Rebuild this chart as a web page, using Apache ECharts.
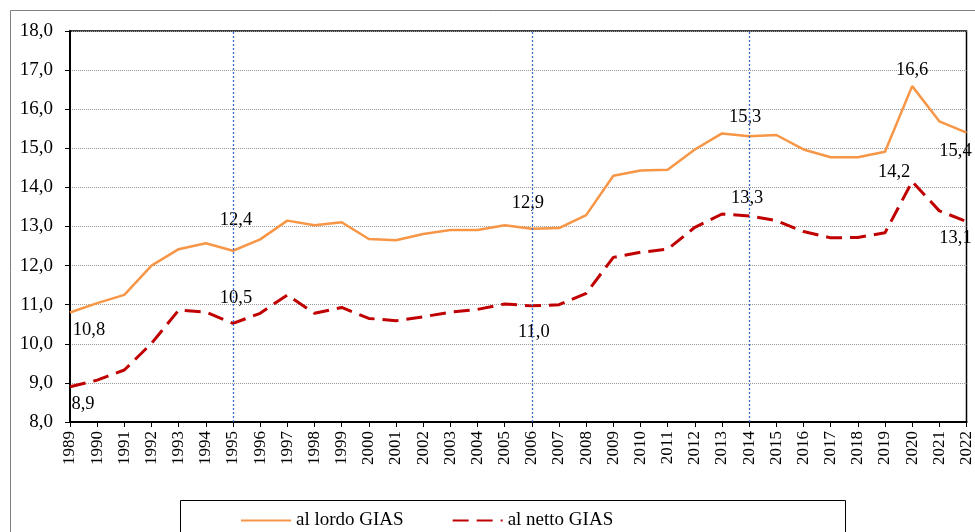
<!DOCTYPE html>
<html>
<head>
<meta charset="utf-8">
<script src="https://cdn.jsdelivr.net/npm/echarts@6/dist/echarts.min.js"></script>
<style>
  html, body { margin: 0; padding: 0; background: #fff; }
  #chart { width: 975px; height: 532px; }
</style>
</head>
<body>
<div id="chart"></div>
<script>
// anni 1989-2022
const years = [];
for (let y = 1989; y <= 2022; y++) years.push(String(y));

const lordoGias = [10.8, 11.04, 11.25, 12.0, 12.42, 12.57, 12.38, 12.67, 13.15, 13.03, 13.11,
  12.68, 12.65, 12.81, 12.91, 12.91, 13.03, 12.94, 12.96, 13.29, 14.3, 14.43, 14.45, 14.97,
  15.38, 15.31, 15.34, 14.97, 14.77, 14.77, 14.91, 16.59, 15.69, 15.4];
const nettoGias = [8.9, 9.07, 9.33, 10.01, 10.86, 10.81, 10.52, 10.78, 11.25, 10.78, 10.93,
  10.65, 10.59, 10.69, 10.81, 10.88, 11.02, 10.97, 11.0, 11.29, 12.21, 12.34, 12.42, 12.98,
  13.32, 13.27, 13.15, 12.87, 12.71, 12.72, 12.84, 14.15, 13.4, 13.13];

const seriesNames = ['al lordo GIAS', 'al netto GIAS'];
const markedYears = ['1995', '2006', '2014'];

// etichette: anno -> offset [dx, dy] rispetto al punto
const lordoLabels = { '1989': [19, 18], '1995': [3, -31], '2006': [-4, -26], '2014': [-4, -19], '2020': [0, -16], '2022': [-11, 18] };
const nettoLabels = { '1989': [13, 17], '1995': [3, -25], '2006': [2, 26], '2014': [-2, -18], '2020': [-18, -9], '2022': [-11, 17] };

const font = 'Liberation Serif, Times New Roman, serif';
const fmt = (v) => v.toFixed(1).replace('.', ',');

function buildData(values, labels) {
  return values.map((v, i) => {
    const off = labels[years[i]];
    if (!off) return v;
    return {
      value: v,
      label: {
        show: true,
        position: 'inside',
        offset: off,
        formatter: (p) => fmt(p.value),
        color: '#000',
        fontFamily: font,
        fontSize: 18.5
      }
    };
  });
}

const chart = echarts.init(document.getElementById('chart'));
chart.setOption({
  animation: false,
  textStyle: { fontFamily: font },
  graphic: [
    { type: 'rect', silent: true, shape: { x: 10.5, y: 10.5, width: 1000, height: 600 },
      style: { fill: 'none', stroke: '#7f7f7f', lineWidth: 1 } },
    { type: 'rect', silent: true, shape: { x: 180.5, y: 500.5, width: 665, height: 60 },
      style: { fill: 'none', stroke: '#000', lineWidth: 1 } }
  ],
  grid: {
    left: 70, right: 6, top: 31, bottom: 110,
    show: true, borderColor: '#000', borderWidth: 1.5
  },
  legend: {
    left: 235, top: 506,
    itemWidth: 50, itemHeight: 14, itemGap: 48,
    textStyle: { fontFamily: font, fontSize: 19, color: '#000' },
    data: seriesNames
  },
  xAxis: {
    type: 'category',
    data: years,
    boundaryGap: false,
    axisLine: { lineStyle: { color: '#000', width: 2 } },
    axisTick: { alignWithLabel: true, length: 5, lineStyle: { color: '#000' } },
    axisLabel: { rotate: 90, fontFamily: font, fontSize: 17, color: '#000', margin: 9, interval: 0 }
  },
  yAxis: {
    type: 'value',
    min: 8, max: 18, interval: 1,
    axisLine: { show: true, lineStyle: { color: '#000', width: 2 } },
    axisTick: { show: true, length: 5, lineStyle: { color: '#000' } },
    axisLabel: { fontFamily: font, fontSize: 19, color: '#000', margin: 17, formatter: fmt },
    splitLine: { lineStyle: { color: '#999', type: 'dotted', width: 1 } }
  },
  series: [
    {
      name: seriesNames[0],
      type: 'line',
      data: buildData(lordoGias, lordoLabels),
      symbol: 'circle', symbolSize: 1, showSymbol: true, showAllSymbol: true,
      itemStyle: { color: 'rgba(0,0,0,0)' },
      lineStyle: { color: '#F79646', width: 2.5 },
      label: { show: false },
      markLine: {
        silent: true, symbol: 'none',
        label: { show: false },
        lineStyle: { color: '#3A6BD0', type: [2, 2], width: 1.3, opacity: 1 },
        data: markedYears.map((y) => ({ xAxis: y }))
      }
    },
    {
      name: seriesNames[1],
      type: 'line',
      data: buildData(nettoGias, nettoLabels),
      symbol: 'circle', symbolSize: 1, showSymbol: true, showAllSymbol: true,
      itemStyle: { color: 'rgba(0,0,0,0)' },
      lineStyle: { color: '#C00000', width: 3, type: [16, 8] },
      label: { show: false }
    }
  ]
});
</script>
</body>
</html>
